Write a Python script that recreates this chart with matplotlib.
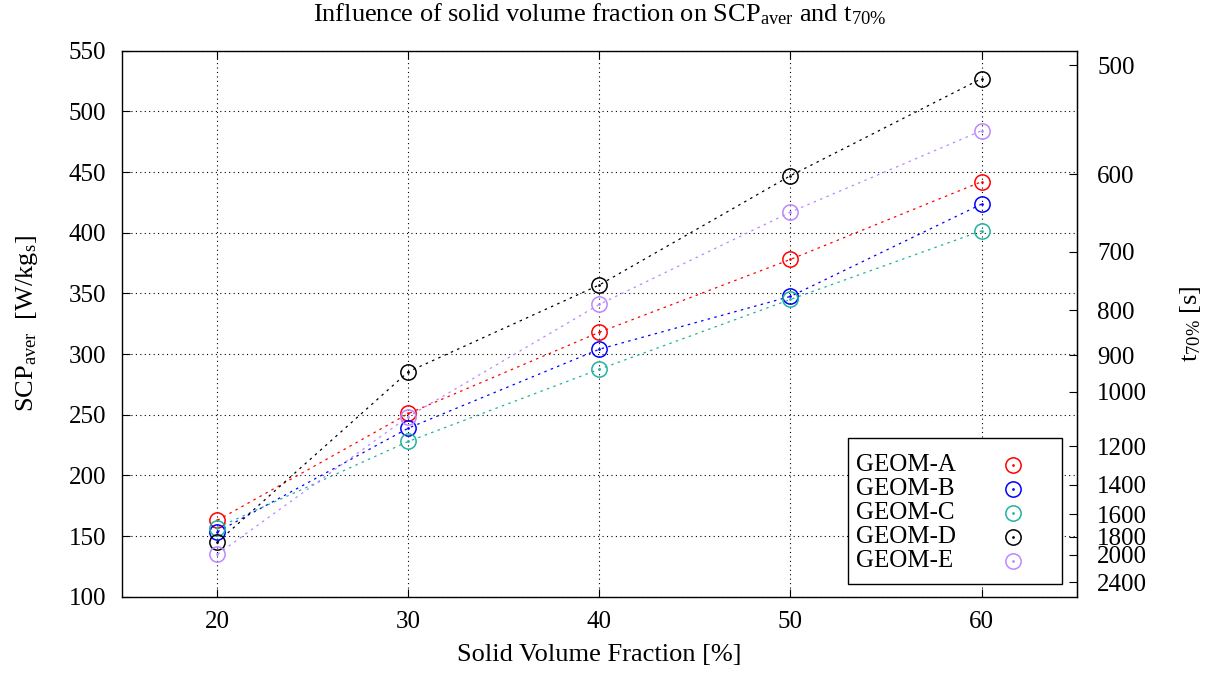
import numpy as np
import matplotlib
matplotlib.use("Agg")
import matplotlib.pyplot as plt
from matplotlib.path import Path
from matplotlib.patches import Rectangle

plt.rcParams['font.family'] = ['Liberation Serif', 'DejaVu Serif']
plt.rcParams['mathtext.fontset'] = 'custom'
plt.rcParams['mathtext.rm'] = 'Liberation Serif'
plt.rcParams['mathtext.it'] = 'Liberation Serif:italic'

# Solid volume fraction [%] and average specific cooling power [W/kg_s]
fraction = [20, 30, 40, 50, 60]
geom_a = [163, 251, 318, 378, 442]
geom_b = [153.5, 239, 304, 347.5, 423.5]
geom_c = [157, 228, 287.5, 345, 401.5]
geom_d = [145, 285.5, 357, 447, 527]
geom_e = [135, 248.5, 341, 417, 484]

series_names = ['GEOM-A', 'GEOM-B', 'GEOM-C', 'GEOM-D', 'GEOM-E']
series_values = [geom_a, geom_b, geom_c, geom_d, geom_e]
series_colors = ['#ff0000', '#0000ff', '#20b2a0', '#000000', '#bb88ff']

# Cycle time t_70% [s] is inversely proportional to SCP
t70_ticks = [500, 600, 700, 800, 900, 1000, 1200, 1400, 1600, 1800, 2000, 2400]
scp_t_const = 269000.0


def scp_to_t(v):
    v = np.asarray(v, dtype=float)
    with np.errstate(divide='ignore', invalid='ignore'):
        return np.where(v > 0, scp_t_const / np.where(v > 0, v, 1.0), np.inf)


TICK_FS = 18
LABEL_FS = 19

# circle with a dot in the middle
ring_dot = Path.make_compound_path(Path.unit_circle(), Path.circle((0, 0), 0.08))

fig = plt.figure(figsize=(12.16, 6.75), dpi=100)
ax = fig.add_axes([0.1003, 0.116, 0.7854, 0.8089])

for name, vals, col in zip(series_names, series_values, series_colors):
    ax.plot(fraction, vals, color=col, lw=0.9, ls=(0, (2, 3.5)), zorder=3)
    ax.plot(fraction, vals, ls='none', marker=ring_dot, ms=11,
            mfc='none', mec=col, mew=1.1, zorder=4)

ax.set_xlim(15, 65)
ax.set_ylim(100, 550)
ax.set_xticks(fraction)
ax.set_yticks(np.arange(100, 551, 50))
ax.grid(True, color='black', ls=(0, (1, 3)), lw=0.8)
ax.set_axisbelow(True)

ax.tick_params(axis='both', direction='in', length=6, width=0.8,
               labelsize=TICK_FS)
ax.tick_params(axis='y', pad=11.5)
ax.tick_params(axis='x', top=True, pad=10.5)
for sp in ax.spines.values():
    sp.set_linewidth(1.0)

ax.set_xlabel('Solid Volume Fraction [%]', fontsize=LABEL_FS)
ax.xaxis.set_label_coords(0.5, -0.086)
ax.set_ylabel(r'SCP$_\mathrm{aver}$  [W/kg$_\mathrm{s}$]', fontsize=LABEL_FS)
ax.yaxis.set_label_coords(-0.086, 0.5)
ax.set_title(r'Influence of solid volume fraction on SCP$_\mathrm{aver}$ and t$_{70\%}$',
             fontsize=LABEL_FS, pad=21)

sec = ax.secondary_yaxis('right', functions=(scp_to_t, scp_to_t))
sec.set_yticks(t70_ticks)
sec.set_yticklabels([str(t) for t in t70_ticks])
sec.tick_params(direction='in', length=6, width=0.8, labelsize=TICK_FS, pad=14.5)
sec.minorticks_off()
sec.set_ylabel(r't$_{70\%}$ [s]', fontsize=LABEL_FS)
sec.yaxis.set_label_coords(1.1058, 0.5, transform=ax.transAxes)

# key box: names on the left, symbols on the right
box = Rectangle((0.7602, 0.0233), 0.2241, 0.2674, transform=ax.transAxes,
                facecolor='white', edgecolor='black', lw=1.0, zorder=5,
                clip_on=False)
ax.add_patch(box)
row_y = [0.2412, 0.1973, 0.1533, 0.1093, 0.0654]
for name, col, yy in zip(series_names, series_colors, row_y):
    ax.text(0.7686, yy, name, transform=ax.transAxes, fontsize=TICK_FS,
            ha='left', va='center', zorder=6)
    ax.plot([0.933], [yy], transform=ax.transAxes, ls='none', marker=ring_dot,
            ms=11, mfc='none', mec=col, mew=1.1, zorder=6, clip_on=False)

fig.savefig('out.png', dpi=100)
